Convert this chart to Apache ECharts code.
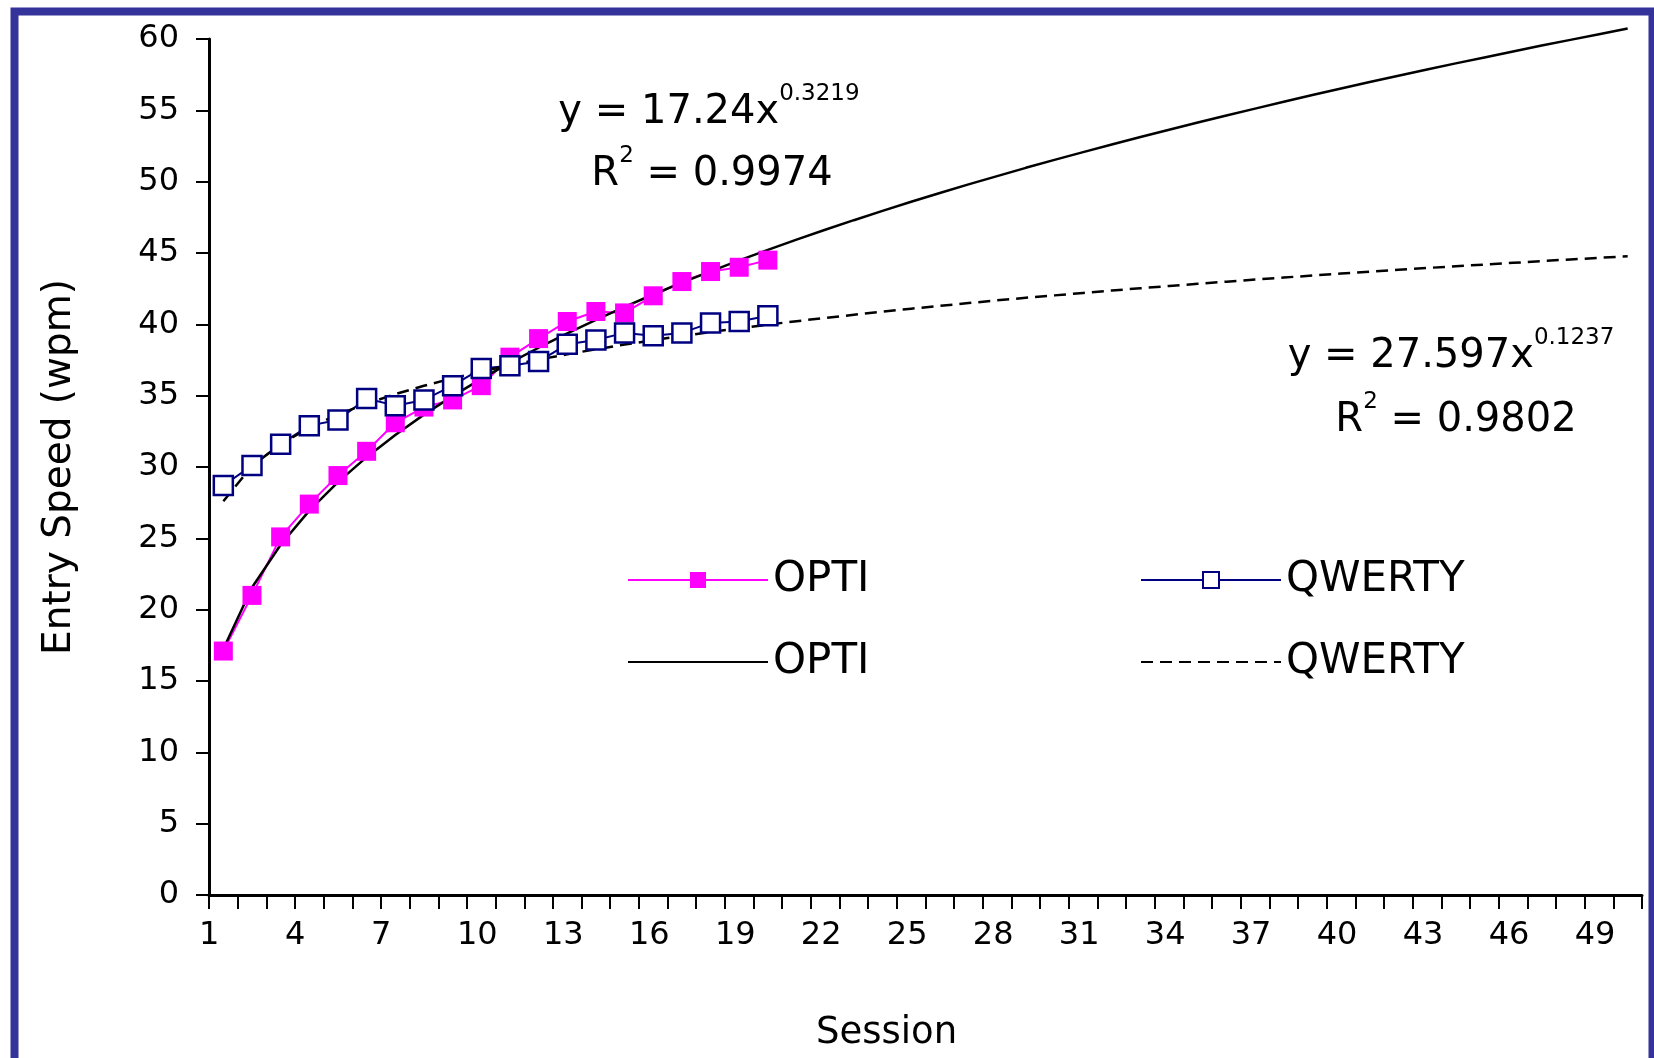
<!DOCTYPE html>
<html><head><meta charset="utf-8">
<script src="https://cdn.jsdelivr.net/npm/echarts@6/dist/echarts.min.js"></script>
<style>html,body{margin:0;padding:0;background:#fff}#c{width:1654px;height:1058px}</style>
</head><body><div id="c"></div>
<script>
// Category axis: sessions 1..50
const sessions = ['1','2','3','4','5','6','7','8','9','10','11','12','13','14','15','16','17','18','19','20',
  '21','22','23','24','25','26','27','28','29','30','31','32','33','34','35','36','37','38','39','40',
  '41','42','43','44','45','46','47','48','49','50'];
// Tick label positions along the axis (labels shown every 3rd: 1, 4, 7, ... 49)
const tickLabels = ['1','2','3','4','5','6','7','8','9','10','11','12','13','14','15','16','17','18','19','20',
  '21','22','23','24','25','26','27','28','29','30','31','32','33','34','35','36','37','38','39','40',
  '41','42','43','44','45','46','47','48','49','50','51'];
// Entry speed (wpm), sessions 1..20
const optiValues = [17.1, 21.0, 25.1, 27.4, 29.4, 31.1, 33.1, 34.2, 34.7, 35.7, 37.7, 39.0, 40.2, 40.9, 40.8, 42.0, 43.0, 43.7, 44.0, 44.5];
const qwertyValues = [28.7, 30.1, 31.6, 32.9, 33.3, 34.8, 34.3, 34.7, 35.7, 36.9, 37.1, 37.4, 38.6, 38.9, 39.4, 39.2, 39.4, 40.1, 40.2, 40.6];
// Power trend lines as displayed: y = 17.24x^0.3219 and y = 27.597x^0.1237 (values at sessions 1..50)
const optiTrend = [17.24, 21.55, 24.55, 26.94, 28.94, 30.69, 32.25, 33.67, 34.97, 36.18, 37.30, 38.36, 39.37, 40.32, 41.22, 42.09, 42.92, 43.71, 44.48, 45.22,
  45.94, 46.63, 47.30, 47.95, 48.59, 49.21, 49.81, 50.39, 50.97, 51.53, 52.07, 52.61, 53.13, 53.64, 54.15, 54.64, 55.12, 55.60, 56.07, 56.53,
  56.98, 57.42, 57.86, 58.29, 58.71, 59.13, 59.54, 59.94, 60.34, 60.73];
const qwertyTrend = [27.60, 30.07, 31.61, 32.76, 33.68, 34.44, 35.11, 35.69, 36.22, 36.69, 37.13, 37.53, 37.90, 38.25, 38.58, 38.89, 39.18, 39.46, 39.72, 39.98,
  40.22, 40.45, 40.67, 40.89, 41.10, 41.29, 41.49, 41.68, 41.86, 42.03, 42.20, 42.37, 42.53, 42.69, 42.84, 42.99, 43.14, 43.28, 43.42, 43.56,
  43.69, 43.82, 43.95, 44.07, 44.19, 44.31, 44.43, 44.55, 44.66, 44.77];

const FONT = 'DejaVu Sans';
const chart = echarts.init(document.getElementById('c'), null, {renderer: 'canvas'});
const legendBase = {
  itemWidth: 140, itemHeight: 20, itemGap: 0, selectedMode: false,
  textStyle: {fontFamily: FONT, fontSize: 42, color: '#000', lineHeight: 46}
};
const noSymbol = {itemStyle: {color: 'rgba(0,0,0,0)', borderWidth: 0, opacity: 0}};
const eqRich = {
  m: {fontFamily: FONT, fontSize: 40, fill: '#000', lineHeight: 50, verticalAlign: 'bottom'},
  s: {fontFamily: FONT, fontSize: 23, fill: '#000', lineHeight: 50, verticalAlign: 'top'}
};
chart.setOption({
  animation: false,
  backgroundColor: '#fff',
  grid: [
    {left: 209, right: 12, top: 39, bottom: 163, containLabel: false, outerBoundsMode: 'none'},
    {left: 199, right: 22, top: 39, bottom: 163, containLabel: false, outerBoundsMode: 'none', show: false}
  ],
  xAxis: [
    {
      type: 'category', data: sessions, boundaryGap: true, gridIndex: 0,
      axisLine: {lineStyle: {color: '#000', width: 3}},
      axisTick: {show: true, interval: 0, length: 14, lineStyle: {color: '#000', width: 2}},
      axisLabel: {show: false},
      splitLine: {show: false},
      name: 'Session', nameLocation: 'middle', nameGap: 120,
      nameTextStyle: {fontFamily: FONT, fontSize: 37, color: '#000', padding: [0, 78, 0, 0]}
    },
    {
      type: 'category', data: tickLabels, boundaryGap: false, gridIndex: 1, position: 'bottom',
      axisLine: {show: false}, axisTick: {show: false}, splitLine: {show: false},
      axisLabel: {interval: 2, fontFamily: FONT, fontSize: 32, color: '#000', margin: 25, align: 'left'}
    }
  ],
  yAxis: [
    {
      type: 'value', min: 0, max: 60, interval: 5, gridIndex: 0,
      axisLine: {show: true, lineStyle: {color: '#000', width: 3}},
      axisTick: {show: true, length: 13, lineStyle: {color: '#000', width: 2}},
      splitLine: {show: false},
      axisLabel: {fontFamily: FONT, fontSize: 32, color: '#000', margin: 30},
      name: 'Entry Speed (wpm)', nameLocation: 'middle', nameGap: 130, nameRotate: 90,
      nameTextStyle: {fontFamily: FONT, fontSize: 39, color: '#000'}
    },
    {
      type: 'value', min: 0, max: 60, gridIndex: 1, show: false
    }
  ],
  legend: [
    Object.assign({data: ['OPTI'], left: 622, top: 552}, legendBase),
    Object.assign({data: ['QWERTY'], left: 1135, top: 552}, legendBase),
    Object.assign({data: ['OPTI trend'], left: 622, top: 634, formatter: () => 'OPTI'}, legendBase, noSymbol),
    Object.assign({data: ['QWERTY trend'], left: 1135, top: 634, formatter: () => 'QWERTY'}, legendBase, noSymbol)
  ],
  series: [
    {
      name: 'OPTI', type: 'line', xAxisIndex: 0, yAxisIndex: 0, data: optiValues,
      symbol: 'rect', symbolSize: 19, showAllSymbol: true,
      itemStyle: {color: '#FF00FF'},
      lineStyle: {color: '#FF00FF', width: 2}
    },
    {
      name: 'QWERTY', type: 'line', xAxisIndex: 0, yAxisIndex: 0, data: qwertyValues,
      symbol: 'rect', symbolSize: 19, showAllSymbol: true,
      itemStyle: {color: '#ffffff', borderColor: '#000080', borderWidth: 2.5},
      lineStyle: {color: '#000080', width: 2}
    },
    {
      name: 'OPTI trend', type: 'line', xAxisIndex: 0, yAxisIndex: 0, data: optiTrend,
      symbol: 'none', z: 3, clip: false,
      itemStyle: {color: '#000'},
      lineStyle: {color: '#000', width: 2.5}
    },
    {
      name: 'QWERTY trend', type: 'line', xAxisIndex: 0, yAxisIndex: 0, data: qwertyTrend,
      symbol: 'none', z: 3, clip: false,
      itemStyle: {color: '#000'},
      lineStyle: {color: '#000', width: 2.5, type: [12, 7]}
    }
  ],
  graphic: [
    {
      type: 'rect', silent: true, z: 100,
      shape: {x: 14.5, y: 11.5, width: 1638, height: 1100},
      style: {fill: 'none', stroke: '#333399', lineWidth: 8}
    },
    {
      type: 'text', x: 709, y: 108, z: 50,
      style: {text: '{m|y = 17.24x}{s|0.3219}', align: 'center', verticalAlign: 'middle', rich: eqRich}
    },
    {
      type: 'text', x: 712, y: 170, z: 50,
      style: {text: '{m|R}{s|2}{m| = 0.9974}', align: 'center', verticalAlign: 'middle', rich: eqRich}
    },
    {
      type: 'text', x: 1451, y: 352, z: 50,
      style: {text: '{m|y = 27.597x}{s|0.1237}', align: 'center', verticalAlign: 'middle', rich: eqRich}
    },
    {
      type: 'text', x: 1456, y: 416, z: 50,
      style: {text: '{m|R}{s|2}{m| = 0.9802}', align: 'center', verticalAlign: 'middle', rich: eqRich}
    }
  ]
});
</script>
</body></html>
